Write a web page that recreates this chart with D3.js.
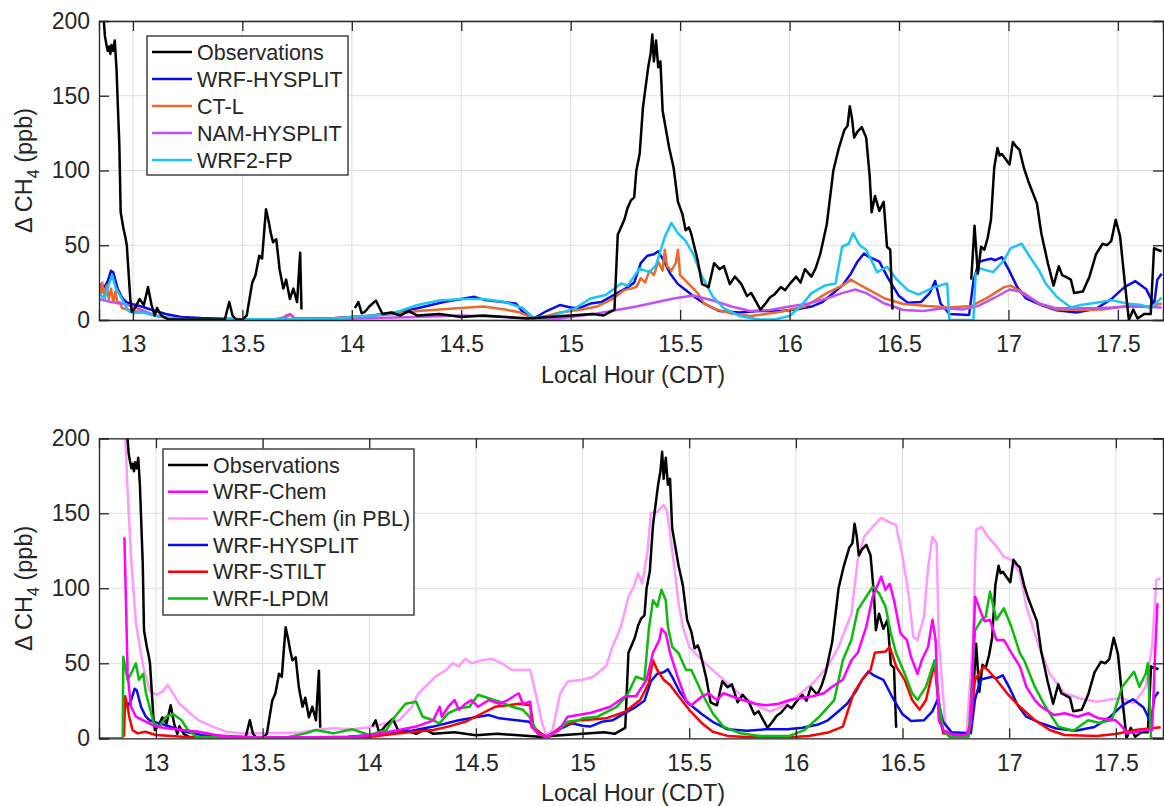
<!DOCTYPE html>
<html><head><meta charset="utf-8">
<script src="https://cdn.jsdelivr.net/npm/d3@7"></script>
<style>body{margin:0;background:#fff}svg{display:block}text{font-family:"Liberation Sans",Arial,Helvetica,sans-serif;fill:#262626}</style>
</head><body><svg id="c" width="1164" height="806"></svg>
<script>
// ---------- DATA (hour, value); null value = gap ----------
const xTicks = [13, 13.5, 14, 14.5, 15, 15.5, 16, 16.5, 17, 17.5];
const yTicks = [0, 50, 100, 150, 200];

const observations = [[12.863,205],[12.867,200],[12.872,190],[12.878,185],[12.885,180],[12.891,183],[12.897,178],[12.902,184],[12.91,180],[12.917,187],[12.925,168],[12.932,140],[12.938,117],[12.944,72],[12.957,61],[12.966,55],[12.972,50],[12.98,32],[12.988,14],[12.995,5.5],[13.01,8],[13.03,14],[13.05,10],[13.069,22],[13.085,10],[13.10,3],[13.11,8],[13.13,3],[13.16,0.5],[13.25,0.3],[13.35,0.3],[13.42,0.5],[13.44,12],[13.455,3],[13.47,0.5],[13.5,0.3],[13.52,3],[13.545,25],[13.56,30],[13.577,43],[13.59,41],[13.6,60],[13.608,74],[13.62,66],[13.63,58],[13.64,52],[13.655,54],[13.67,34],[13.687,21],[13.70,27],[13.717,14],[13.733,21],[13.75,12],[13.764,45],[13.77,7],[13.8,null],[14.014,8],[14.03,12],[14.045,4.5],[14.06,5.5],[14.08,9],[14.11,13],[14.14,4],[14.18,5],[14.22,3],[14.26,6],[14.3,3],[14.4,4],[14.5,2],[14.6,3],[14.7,2],[14.8,1],[14.9,2],[15.0,3],[15.1,4],[15.15,3],[15.2,7],[15.215,57],[15.23,62],[15.245,67],[15.26,75],[15.275,80],[15.29,82],[15.30,100],[15.315,111],[15.33,142],[15.354,169],[15.365,178],[15.373,191],[15.38,173],[15.39,187],[15.40,169],[15.41,173],[15.42,140],[15.45,115],[15.47,102],[15.49,79],[15.51,71],[15.525,60],[15.54,62],[15.55,58],[15.58,40],[15.60,24],[15.63,22],[15.655,38],[15.68,34],[15.70,36],[15.727,24],[15.75,29],[15.78,24],[15.805,16],[15.825,18],[15.84,14],[15.867,7],[15.89,11],[15.91,15],[15.93,17],[15.96,22],[15.98,20],[16.0,24],[16.03,29],[16.05,25],[16.07,34],[16.10,29],[16.12,35],[16.14,44],[16.17,64],[16.20,100],[16.225,115],[16.25,127],[16.265,130],[16.275,143],[16.285,135],[16.295,122],[16.31,126],[16.33,129],[16.35,122],[16.366,96],[16.375,72],[16.39,83],[16.41,73],[16.43,79],[16.445,49],[16.46,47],[16.47,7],[16.5,null],[16.83,27],[16.845,63],[16.86,31],[16.875,49],[16.89,47],[16.905,55],[16.92,67],[16.935,102],[16.95,115],[16.96,110],[16.97,111],[16.99,107],[17.005,104],[17.02,119],[17.035,116],[17.05,114],[17.07,102],[17.09,93],[17.13,78],[17.15,58],[17.18,38],[17.206,23],[17.23,36],[17.245,30],[17.26,29],[17.285,27],[17.30,18],[17.34,19],[17.37,29],[17.40,44],[17.43,51],[17.45,50],[17.47,53],[17.49,67],[17.51,56],[17.53,27],[17.55,0],[17.57,7],[17.59,1],[17.62,4],[17.65,4],[17.665,48],[17.68,47],[17.70,46]];

const wrfHysplit = [[12.85,24],[12.87,22],[12.885,26],[12.9,33],[12.91,32],[12.93,21],[12.95,15],[12.97,12],[13.0,10.5],[13.04,9],[13.08,7],[13.15,4],[13.22,2],[13.31,1.3],[13.5,0.5],[13.7,0.5],[13.9,1],[14.0,2],[14.07,2.5],[14.14,4],[14.2,5],[14.3,7.8],[14.42,12],[14.5,14],[14.56,15.5],[14.61,13.3],[14.69,12],[14.75,11],[14.78,5.5],[14.83,1],[14.89,6],[14.95,10],[15.0,8.4],[15.035,7.8],[15.09,11],[15.14,12],[15.2,17],[15.25,21],[15.29,25],[15.32,38],[15.35,43],[15.38,44],[15.40,46],[15.42,41],[15.455,31],[15.49,24],[15.525,20],[15.56,16],[15.61,11],[15.68,6],[15.77,5],[15.86,6],[15.96,6],[16.03,7],[16.10,9],[16.15,12],[16.2,18],[16.24,23],[16.28,31],[16.31,39],[16.34,44.5],[16.365,42],[16.41,39],[16.45,28],[16.5,16],[16.54,11.5],[16.6,12],[16.64,18],[16.665,26],[16.69,11],[16.73,4],[16.82,3.3],[16.84,26],[16.865,39],[16.89,40],[16.92,41],[16.94,40],[16.97,42],[17.0,34],[17.04,22],[17.08,14.4],[17.15,10],[17.22,6.5],[17.31,5],[17.40,7.5],[17.47,14],[17.53,22],[17.58,26],[17.63,20.5],[17.665,10],[17.68,27],[17.70,31]];

const ctL = [[12.845,24],[12.855,18],[12.86,25],[12.87,16],[12.88,23],[12.89,14],[12.9,21],[12.91,12],[12.92,19],[12.93,11],[12.94,12],[12.95,8],[13.0,6],[13.05,5],[13.1,3],[13.15,1.5],[13.25,0.5],[13.65,0.5],[13.70,2],[13.72,3.5],[13.74,1],[13.9,1],[14.0,2],[14.1,3],[14.2,4],[14.3,6],[14.4,7],[14.5,8],[14.6,9],[14.7,7],[14.77,5],[14.83,1],[14.9,3],[14.95,5],[15.05,7],[15.12,9],[15.19,14],[15.245,20],[15.3,22],[15.32,28],[15.34,25],[15.36,33],[15.38,30],[15.40,39],[15.42,33],[15.43,47],[15.44,36],[15.46,33],[15.48,38],[15.49,47],[15.50,30],[15.52,27],[15.54,24],[15.58,18],[15.61,11],[15.665,7],[15.735,4.4],[15.82,2.7],[15.89,4],[15.96,5.5],[16.07,9],[16.17,18],[16.24,23],[16.28,27],[16.31,24.4],[16.365,20],[16.435,14.4],[16.52,10.7],[16.63,9.3],[16.73,8.4],[16.83,9.3],[16.91,15.5],[16.98,22],[17.01,23],[17.07,18],[17.14,11],[17.22,7],[17.33,6.7],[17.43,7],[17.54,9.3],[17.64,9],[17.70,11]];

const namHysplit = [[12.845,14],[12.9,12],[12.95,11],[13.0,9],[13.05,6],[13.1,3],[13.2,0.5],[13.68,0.5],[13.70,3],[13.72,4],[13.74,1],[13.9,1],[14.0,1],[14.3,2],[14.5,3],[14.7,2],[14.85,1],[14.95,1],[15.12,4.4],[15.30,9],[15.47,14.4],[15.56,16.4],[15.65,13],[15.735,9],[15.82,6],[15.91,6.7],[16.0,9],[16.086,11],[16.17,14.4],[16.24,18],[16.30,20.4],[16.35,18],[16.435,11],[16.52,6.7],[16.61,6],[16.70,7.8],[16.79,7],[16.86,9.3],[16.93,14.4],[17.005,20.4],[17.05,19],[17.14,11],[17.22,7.8],[17.40,7.8],[17.57,9],[17.70,8.4]];

const wrf2Fp = [[12.845,18],[12.87,14],[12.89,24],[12.905,30],[12.92,22],[12.95,14],[12.98,6],[13.0,4.7],[13.05,5],[13.1,3],[13.2,0.5],[13.9,0.5],[14.0,2],[14.1,3],[14.2,5],[14.3,10],[14.4,13],[14.5,14],[14.6,14],[14.7,12],[14.78,8],[14.83,1.5],[14.9,2],[14.95,4.4],[15.02,7.8],[15.09,14.4],[15.16,16.7],[15.23,24.4],[15.26,23],[15.315,34.4],[15.36,32],[15.39,36.7],[15.43,55.6],[15.46,65],[15.49,58],[15.525,53],[15.56,44],[15.60,29],[15.65,15.5],[15.70,7.8],[15.77,2.7],[15.86,0.4],[15.93,0.4],[16.0,2.7],[16.05,9],[16.10,18],[16.16,23],[16.21,24.4],[16.24,49],[16.27,51],[16.29,58],[16.32,50],[16.35,47],[16.40,32],[16.445,35.6],[16.49,27],[16.54,20],[16.59,17],[16.66,22],[16.72,24.4],[16.73,0],[16.84,0],[16.85,31],[16.87,34.4],[16.93,32],[16.98,40],[17.01,48],[17.06,51],[17.09,44],[17.14,33],[17.17,24.4],[17.22,15.5],[17.285,8.4],[17.33,10],[17.40,11.6],[17.47,13.3],[17.54,11],[17.61,10],[17.65,7.8],[17.70,15]];

const wrfChem = [[12.852,134],[12.86,88],[12.867,43],[12.883,21],[12.906,14.4],[12.94,12],[12.97,10],[13.0,7.8],[13.05,6.7],[13.125,5.5],[13.2,4.4],[13.28,2.2],[13.36,1],[13.5,0.5],[13.9,0.8],[14.0,2],[14.14,5.5],[14.22,7.8],[14.30,12],[14.33,21],[14.34,14.4],[14.37,21],[14.40,25.5],[14.42,19],[14.45,23],[14.48,25.5],[14.51,21],[14.56,25.5],[14.61,23],[14.65,25.5],[14.70,30],[14.72,23],[14.755,24.4],[14.76,7.8],[14.79,3.3],[14.83,1],[14.89,5.5],[14.93,14.4],[14.98,15.5],[15.04,17],[15.13,21],[15.2,28],[15.25,28],[15.30,39],[15.33,57],[15.36,65.6],[15.37,73],[15.39,70],[15.41,57],[15.43,48],[15.45,39],[15.485,25.5],[15.51,22],[15.56,28],[15.59,30],[15.63,25.5],[15.66,30],[15.70,28],[15.75,25.5],[15.81,23],[15.86,22],[15.92,23],[15.97,25.5],[16.02,26.7],[16.08,28],[16.13,30],[16.17,34.4],[16.22,39],[16.26,52],[16.29,57],[16.33,74.4],[16.36,94.4],[16.40,107.8],[16.42,99],[16.44,103],[16.46,92],[16.49,70],[16.52,65.6],[16.54,54],[16.57,43],[16.59,52],[16.62,61],[16.64,79],[16.655,65.6],[16.67,12],[16.69,5.5],[16.74,2.2],[16.80,2.2],[16.82,10],[16.84,94.4],[16.87,83],[16.885,78],[16.91,79],[16.94,65.6],[16.975,65.6],[17.01,57],[17.05,48],[17.08,34.4],[17.12,25.5],[17.15,21],[17.21,15.5],[17.26,16.7],[17.32,14.4],[17.37,16.7],[17.42,13.3],[17.50,12],[17.53,7.8],[17.55,3.3],[17.60,4.4],[17.64,5.5],[17.67,5.5],[17.685,60],[17.695,90]];

const wrfChemPBL = [[12.848,230],[12.867,165],[12.883,121],[12.906,77],[12.94,48],[12.97,32],[13.0,29],[13.03,31],[13.055,35.6],[13.08,30],[13.11,23],[13.16,16.7],[13.2,12],[13.265,7.8],[13.33,4.4],[13.39,3.3],[13.51,3.3],[13.67,3.8],[13.75,5.5],[13.83,6.7],[13.92,6],[14.0,7.3],[14.08,10],[14.14,12],[14.2,21],[14.23,30],[14.28,36.7],[14.31,41],[14.36,45.5],[14.39,50],[14.42,48],[14.45,53],[14.48,50],[14.53,52],[14.575,53],[14.62,50],[14.67,45.5],[14.72,45.5],[14.755,45.5],[14.78,30],[14.81,10],[14.83,2.2],[14.86,5.5],[14.895,30],[14.93,37.8],[15.0,39],[15.05,41],[15.11,48],[15.14,61],[15.18,74.4],[15.215,94.4],[15.24,101],[15.26,110],[15.28,103],[15.305,125.6],[15.32,150],[15.35,151],[15.38,155.6],[15.395,152],[15.41,136.7],[15.43,114],[15.45,90],[15.47,74.4],[15.50,61],[15.56,52],[15.61,45.5],[15.68,36.7],[15.75,28],[15.83,21],[15.88,17.8],[15.93,21],[16.005,28],[16.08,36.7],[16.15,48],[16.20,61],[16.26,83],[16.29,119],[16.32,134.4],[16.36,141],[16.40,147],[16.44,144],[16.47,142],[16.50,121],[16.53,94.4],[16.55,67.8],[16.57,65.6],[16.60,81],[16.62,114],[16.64,134.4],[16.66,130],[16.67,65.6],[16.70,10],[16.72,2.2],[16.80,2.2],[16.83,65.6],[16.845,139],[16.87,141],[16.90,134.4],[16.94,128],[16.975,121],[17.01,119],[17.05,110],[17.08,88],[17.14,61],[17.19,43],[17.26,30],[17.33,26.7],[17.41,24.4],[17.48,26],[17.53,26.7],[17.585,23.3],[17.64,34.4],[17.67,61],[17.69,105.6],[17.71,106.7]];

const wrfStilt = [[12.85,1],[12.856,28],[12.867,21],[12.875,14.4],[12.89,5.5],[12.914,3.3],[12.95,4.4],[13.0,2.2],[13.125,1],[13.3,0.5],[14.0,0.8],[14.14,3.3],[14.3,5.5],[14.37,7.8],[14.45,11],[14.53,16.7],[14.59,21],[14.65,22],[14.70,23],[14.755,22],[14.77,7.8],[14.81,2.2],[14.84,1],[14.90,7.8],[14.98,12],[15.0,12],[15.11,13.3],[15.2,17.8],[15.27,25.5],[15.31,36.7],[15.33,52],[15.35,45.5],[15.38,39],[15.41,35.6],[15.45,28],[15.50,19],[15.56,10],[15.61,4.4],[15.68,1.6],[15.79,0.7],[15.97,0.7],[16.06,1.6],[16.15,3.8],[16.22,7.8],[16.27,30],[16.31,39],[16.35,45.5],[16.37,57],[16.42,57.8],[16.44,61],[16.47,48],[16.51,39],[16.545,25.5],[16.58,19],[16.61,25.5],[16.65,50],[16.67,21],[16.69,3.3],[16.81,1.6],[16.84,39],[16.88,47.8],[16.90,45.5],[16.94,39],[16.99,30],[17.05,21],[17.12,12],[17.19,5.5],[17.26,2.2],[17.41,1.6],[17.50,2.9],[17.59,5.5],[17.71,7.3]];

const wrfLpdm = [[12.733,0],[12.844,0],[12.847,54.4],[12.867,39],[12.883,43],[12.906,50],[12.92,39],[12.94,43],[12.953,30],[12.97,21],[12.99,10],[13.016,7.8],[13.047,14.4],[13.08,16.2],[13.12,12],[13.15,5.5],[13.19,1],[13.6,0.3],[13.70,3.3],[13.75,5.5],[13.83,3.3],[13.92,6],[14.0,2.2],[14.08,5.5],[14.12,14.4],[14.17,23],[14.22,24.4],[14.25,14.4],[14.3,12],[14.33,10],[14.37,16.7],[14.42,20],[14.47,21],[14.51,29],[14.56,26.7],[14.61,24.4],[14.67,21],[14.72,19],[14.75,14.4],[14.79,3.3],[14.83,1],[14.89,5.5],[14.93,11],[14.98,12],[15.0,13.3],[15.07,14.4],[15.16,21],[15.21,29],[15.25,41],[15.29,39],[15.31,72],[15.33,92],[15.35,87.8],[15.37,99],[15.39,92],[15.40,74.4],[15.42,61],[15.45,56.7],[15.485,45.5],[15.51,45.5],[15.56,30],[15.61,16.7],[15.66,7.8],[15.74,3.3],[15.83,1.6],[15.97,1.6],[16.04,5.5],[16.11,14.4],[16.18,25.5],[16.22,52],[16.26,65.6],[16.29,85.6],[16.33,94.4],[16.36,101],[16.39,96.7],[16.42,87.8],[16.445,70],[16.47,56.7],[16.51,43],[16.545,30],[16.57,25.5],[16.61,34.4],[16.65,52],[16.67,25.5],[16.69,5.5],[16.72,1],[16.81,1],[16.84,72],[16.87,79],[16.89,81],[16.91,97.8],[16.94,79],[16.975,86.7],[17.01,74.4],[17.05,56.7],[17.07,52],[17.12,34.4],[17.17,21],[17.23,7.8],[17.30,5],[17.37,12],[17.42,10.4],[17.48,12],[17.53,34.4],[17.585,44.4],[17.61,34.4],[17.64,43],[17.65,50],[17.665,0],[17.72,0]];

const topSeries = [
  {name:"Observations", data:observations, color:"#000000"},
  {name:"WRF-HYSPLIT", data:wrfHysplit, color:"#0a0aef"},
  {name:"CT-L", data:ctL, color:"#e96a2e"},
  {name:"NAM-HYSPLIT", data:namHysplit, color:"#c152f2"},
  {name:"WRF2-FP", data:wrf2Fp, color:"#1bc4f4"}
];
const bottomSeries = [
  {name:"Observations", data:observations, color:"#000000"},
  {name:"WRF-Chem", data:wrfChem, color:"#ff00ff"},
  {name:"WRF-Chem (in PBL)", data:wrfChemPBL, color:"#ff99ff"},
  {name:"WRF-HYSPLIT", data:wrfHysplit, color:"#0a0aef"},
  {name:"WRF-STILT", data:wrfStilt, color:"#ff0000"},
  {name:"WRF-LPDM", data:wrfLpdm, color:"#0dbb0d"}
];
const drawOrderTop = ["WRF-HYSPLIT","CT-L","NAM-HYSPLIT","WRF2-FP","Observations"];
const drawOrderBottom = ["WRF-Chem (in PBL)","Observations","WRF-HYSPLIT","WRF-STILT","WRF-LPDM","WRF-Chem"];

// ---------- DRAW ----------
const svg = d3.select("#c");
function panel(cfg){
  const {top, bottom, left, right, xmin, xmax, series, order, legend, id} = cfg;
  const x = d3.scaleLinear().domain([xmin, xmax]).range([left, right]);
  const y = d3.scaleLinear().domain([0, 200]).range([bottom, top]);
  const g = svg.append("g");
  g.append("clipPath").attr("id", id).append("rect")
    .attr("x", left).attr("y", top).attr("width", right-left).attr("height", bottom-top);
  g.append("g").selectAll("line").data(xTicks).join("line")
    .attr("x1", d=>x(d)).attr("x2", d=>x(d)).attr("y1", top).attr("y2", bottom)
    .attr("stroke", "#dedede").attr("stroke-width", 1);
  g.append("g").selectAll("line").data(yTicks).join("line")
    .attr("x1", left).attr("x2", right).attr("y1", d=>y(d)).attr("y2", d=>y(d))
    .attr("stroke", "#dedede").attr("stroke-width", 1);
  const line = d3.line().defined(d=>d[1]!=null).x(d=>x(d[0])).y(d=>y(d[1]));
  const lg = g.append("g").attr("clip-path", `url(#${id})`);
  order.forEach(nm=>{
    const s = series.find(q=>q.name===nm);
    lg.append("path").attr("d", line(s.data)).attr("fill","none")
      .attr("stroke", s.color).attr("stroke-width", 2.5).attr("stroke-linejoin","round");
  });
  const ax = d3.axisBottom(x).tickValues(xTicks).tickSize(-10).tickPadding(16).tickFormat(d3.format("~g"));
  const ay = d3.axisLeft(y).tickValues(yTicks).tickSize(-10).tickPadding(9);
  const axx = g.append("g").attr("transform", `translate(0,${bottom})`).call(ax);
  const axy = g.append("g").attr("transform", `translate(${left},0)`).call(ay);
  const axt = g.append("g").attr("transform", `translate(0,${top})`).call(d3.axisTop(x).tickValues(xTicks).tickSize(-10).tickFormat(""));
  const axr = g.append("g").attr("transform", `translate(${right},0)`).call(d3.axisRight(y).tickValues(yTicks).tickSize(-10).tickFormat(""));
  [axx, axy, axt, axr].forEach(a=>{
    a.select(".domain").attr("stroke","#262626").attr("stroke-width",1.3);
    a.selectAll(".tick line").attr("stroke","#262626").attr("stroke-width",1.3);
    a.selectAll("text").style("font-size","23px").attr("fill","#262626");
  });
  g.append("text").attr("x", (left+right)/2 + 2).attr("y", bottom+62.5).attr("text-anchor","middle")
    .style("font-size","23.5px").text("Local Hour (CDT)");
  const yl = g.append("text").attr("transform", `translate(32,${(top+bottom)/2}) rotate(-90)`)
    .attr("text-anchor","middle").style("font-size","23.5px");
  yl.append("tspan").text("\u0394 CH");
  yl.append("tspan").attr("dy", 7).style("font-size","16px").text("4");
  yl.append("tspan").attr("dy", -7).text(" (ppb)");
  const L = legend;
  g.append("rect").attr("x", L.x).attr("y", L.y).attr("width", L.w).attr("height", L.h)
    .attr("fill","#fff").attr("stroke","#262626").attr("stroke-width",1.3);
  series.forEach((s,i)=>{
    const cy = L.y + L.first + i*L.step;
    g.append("line").attr("x1", L.x+5).attr("x2", L.x+45).attr("y1", cy).attr("y2", cy)
      .attr("stroke", s.color).attr("stroke-width", 2.5);
    g.append("text").attr("x", L.x+50).attr("y", cy+7.5).style("font-size","21.5px").text(s.name);
  });
}
panel({id:"clipTop", top:21, bottom:320, left:99, right:1163, xmin:12.845, xmax:17.706,
  series:topSeries, order:drawOrderTop,
  legend:{x:147, y:36, w:201, h:139, first:16, step:27}});
panel({id:"clipBot", top:438.3, bottom:738.3, left:99, right:1163, xmin:12.733, xmax:17.721,
  series:bottomSeries, order:drawOrderBottom,
  legend:{x:163, y:449, w:251, h:166, first:16, step:26.7}});
</script></body></html>
